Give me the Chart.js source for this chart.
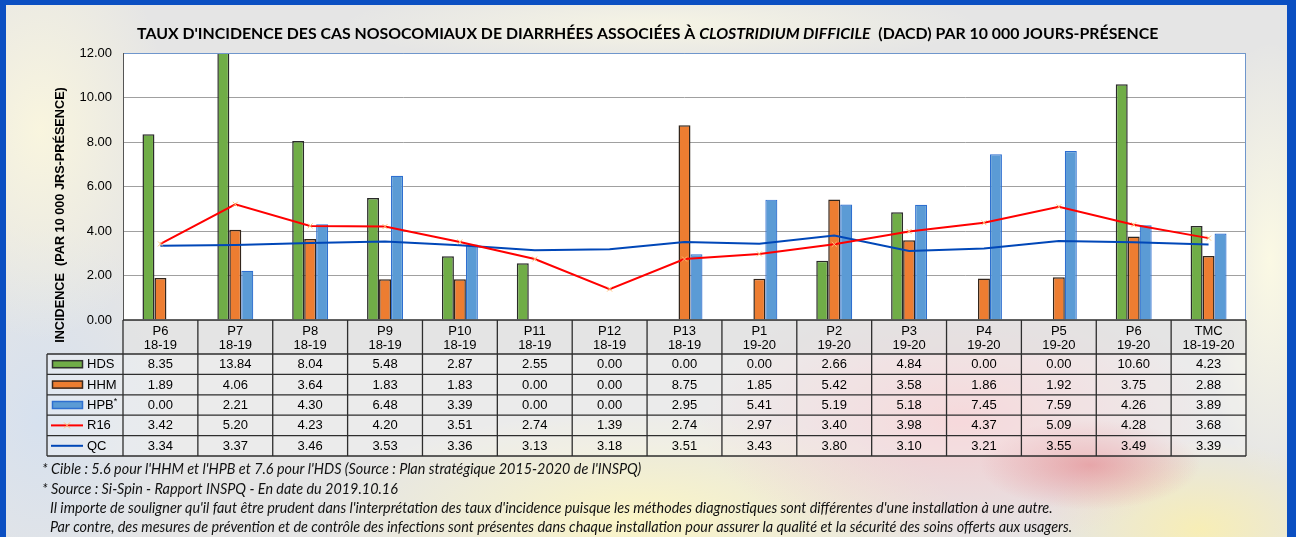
<!DOCTYPE html>
<html><head><meta charset="utf-8">
<script src="https://cdn.jsdelivr.net/npm/chart.js@4.4.0/dist/chart.umd.min.js"></script>
<style>
html,body{margin:0;padding:0;width:1296px;height:537px;overflow:hidden;background:#e6e6e6;}
#bg{position:absolute;left:0;top:0;width:1296px;height:537px;
background:
 radial-gradient(ellipse 110px 45px at 1090px 465px, rgba(228,130,135,0.6), rgba(228,130,135,0)),
 radial-gradient(ellipse 260px 130px at 960px 420px, rgba(246,200,204,0.85), rgba(246,200,204,0)),
 radial-gradient(ellipse 320px 110px at 640px 520px, rgba(252,246,196,0.95), rgba(252,246,196,0)),
 radial-gradient(ellipse 160px 90px at 1200px 530px, rgba(252,240,170,0.8), rgba(252,240,170,0)),
 radial-gradient(ellipse 130px 210px at 40px 130px, rgba(250,246,222,0.95), rgba(250,246,222,0)),
 radial-gradient(ellipse 140px 200px at 40px 420px, rgba(212,224,240,0.85), rgba(212,224,240,0)),
 radial-gradient(ellipse 70px 220px at 1270px 260px, rgba(252,250,228,0.95), rgba(252,250,228,0)),
 radial-gradient(ellipse 320px 40px at 660px 25px, rgba(248,246,228,0.9), rgba(248,246,228,0)),
 #e5e5e5;}
#frame{position:absolute;left:0;top:0;width:1296px;height:537px;box-sizing:border-box;border-left:6px solid #0b4fc2;border-top:5px solid #0b4fc2;border-right:9px solid #0b4fc2;}
canvas{position:absolute;left:0;top:0;}
</style>
</head><body>
<div id="bg"></div>
<div id="frame"></div>
<canvas id="c" width="1296" height="537"></canvas>
<script>
// ---- data ----
const categories = [["P6","18-19"],["P7","18-19"],["P8","18-19"],["P9","18-19"],["P10","18-19"],["P11","18-19"],["P12","18-19"],["P13","18-19"],["P1","19-20"],["P2","19-20"],["P3","19-20"],["P4","19-20"],["P5","19-20"],["P6","19-20"],["TMC","18-19-20"]];
const hds = [8.35,13.84,8.04,5.48,2.87,2.55,0.00,0.00,0.00,2.66,4.84,0.00,0.00,10.60,4.23];
const hhm = [1.89,4.06,3.64,1.83,1.83,0.00,0.00,8.75,1.85,5.42,3.58,1.86,1.92,3.75,2.88];
const hpb = [0.00,2.21,4.30,6.48,3.39,0.00,0.00,2.95,5.41,5.19,5.18,7.45,7.59,4.26,3.89];
const r16 = [3.42,5.20,4.23,4.20,3.51,2.74,1.39,2.74,2.97,3.40,3.98,4.37,5.09,4.28,3.68];
const qc  = [3.34,3.37,3.46,3.53,3.36,3.13,3.18,3.51,3.43,3.80,3.10,3.21,3.55,3.49,3.39];
const yTicks = [0,2,4,6,8,10,12];
const seriesNames = ["HDS","HHM","HPB*","R16","QC"];
const titleParts = [["TAUX D'INCIDENCE DES CAS NOSOCOMIAUX DE DIARRHÉES ASSOCIÉES À ",false],["CLOSTRIDIUM DIFFICILE",true],["  (DACD) PAR 10 000 JOURS-PRÉSENCE",false]];
const yTitle = "INCIDENCE  (PAR 10 000 JRS-PRÉSENCE)";
const notes = [
 "* Cible : 5.6 pour l'HHM et l'HPB et 7.6 pour l'HDS (Source : Plan stratégique 2015-2020 de l'INSPQ)",
 "* Source : Si-Spin - Rapport INSPQ - En date du 2019.10.16",
 "Il importe de souligner qu'il faut être prudent dans l'interprétation des taux d'incidence puisque les méthodes diagnostiques sont différentes d'une installation à une autre.",
 "Par contre, des mesures de prévention et de contrôle des infections sont présentes dans chaque installation pour assurer la qualité et la sécurité des soins offerts aux usagers."
];

const nz = a => a.map(v => v === 0 ? null : v);
const ARIAL = "'Liberation Sans', Arial, sans-serif";
const CAL = "Lato, 'Open Sans', sans-serif";

const bgPlugin = {
  id:'bgp',
  beforeDraw(chart){
    const {ctx, chartArea:a} = chart;
    ctx.save(); ctx.fillStyle='#ffffff';
    ctx.fillRect(a.left,a.top,a.right-a.left,a.bottom-a.top);
    ctx.restore();
  },
  afterDatasetsDraw(chart){
    const {ctx, chartArea:a} = chart;
    ctx.save();
    ctx.lineWidth=1;
    ctx.strokeStyle='#6f96cc';
    ctx.beginPath(); ctx.moveTo(a.left,a.top+0.5); ctx.lineTo(a.right-0.5,a.top+0.5); ctx.lineTo(a.right-0.5,a.bottom); ctx.stroke();
    ctx.strokeStyle='#555';
    ctx.beginPath(); ctx.moveTo(a.left+0.5,a.top); ctx.lineTo(a.left+0.5,a.bottom); ctx.stroke();
    ctx.restore();
  }
};

const tablePlugin = {
  id:'tbl',
  afterDraw(chart){
    const {ctx, chartArea:a} = chart;
    const xs = chart.scales.x;
    const n = categories.length;
    const cw = xs.getPixelForValue(1) - xs.getPixelForValue(0);
    const left0 = 47;
    const hTop = a.bottom, hBot = 354;
    const rowH = (456 - hBot)/5;
    const rows = [hds,hhm,hpb,r16,qc];
    ctx.save();
    ctx.fillStyle='rgba(226,226,226,0.6)';
    ctx.fillRect(xs.getPixelForValue(0)-cw/2, hTop, cw*n, hBot-hTop);
    ctx.fillStyle='rgba(255,255,255,0.25)';
    ctx.fillRect(left0, hBot, (xs.getPixelForValue(n-1)+cw/2)-left0, 456-hBot);
    ctx.strokeStyle='#2e2e2e'; ctx.lineWidth=1.3;
    ctx.beginPath();
    const xl = xs.getPixelForValue(0)-cw/2, xr = xs.getPixelForValue(n-1)+cw/2;
    ctx.moveTo(xl,hTop); ctx.lineTo(xr,hTop);
    for(let r=0;r<=5;r++){ const y=hBot+r*rowH; ctx.moveTo(left0,y); ctx.lineTo(xr,y); }
    for(let i=0;i<=n;i++){ const x = xl + i*cw; ctx.moveTo(x,hTop); ctx.lineTo(x,456); }
    ctx.moveTo(left0,hBot); ctx.lineTo(left0,456);
    ctx.stroke();
    ctx.fillStyle='#000'; ctx.textAlign='center'; ctx.textBaseline='middle';
    ctx.font = `13px ${ARIAL}`;
    for(let i=0;i<n;i++){
      const x = xs.getPixelForValue(i);
      ctx.fillText(categories[i][0], x, 331);
      ctx.fillText(categories[i][1], x, 345);
    }
    for(let r=0;r<5;r++){
      const y = hBot + r*rowH + rowH/2 + 0.5;
      for(let i=0;i<n;i++){
        ctx.fillText(rows[r][i].toFixed(2), xs.getPixelForValue(i), y);
      }
    }
    const keys = [
      {t:'bar', f:'#70ad47', s:'#2f2f2f'},
      {t:'bar', f:'#ed7d31', s:'#3a2a20'},
      {t:'bar', f:'#5b9bd5', s:'#2e6fd0'},
      {t:'line', s:'#ff0000', m:true},
      {t:'line', s:'#0047b8'}
    ];
    ctx.textAlign='left';
    for(let r=0;r<5;r++){
      const yc = hBot + r*rowH + rowH/2;
      const k = keys[r];
      if(k.t==='bar'){
        ctx.fillStyle=k.f; ctx.fillRect(52,yc-4,31,8);
        ctx.strokeStyle=k.s; ctx.lineWidth=1.5; ctx.strokeRect(52.5,yc-3.5,30,7);
      } else {
        ctx.strokeStyle=k.s; ctx.lineWidth=2;
        ctx.beginPath(); ctx.moveTo(51,yc); ctx.lineTo(83,yc); ctx.stroke();
        if(k.m){
          ctx.strokeStyle='#ffc27a'; ctx.lineWidth=1;
          ctx.beginPath(); ctx.moveTo(64,yc-3); ctx.lineTo(70,yc+3); ctx.moveTo(70,yc-3); ctx.lineTo(64,yc+3); ctx.stroke();
        }
      }
      ctx.fillStyle='#000'; ctx.font=`13px ${ARIAL}`;
      if(seriesNames[r]==='HPB*'){
        ctx.fillText('HPB',87,yc+0.5);
        const w = ctx.measureText('HPB').width;
        ctx.font=`9px ${ARIAL}`; ctx.fillText('*',87+w,yc-3);
      } else ctx.fillText(seriesNames[r],87,yc+0.5);
    }
    ctx.textBaseline='alphabetic';
    let size=15;
    const fontFor=(it,s)=>`${it?'italic ':''}bold ${s}px ${CAL}`;
    let tw=0; titleParts.forEach(p=>{ctx.font=fontFor(p[1],size); tw+=ctx.measureText(p[0]).width;});
    size = size*1022/tw;
    let tx = 648-1022/2;
    titleParts.forEach(p=>{ctx.font=fontFor(p[1],size); ctx.fillText(p[0],tx,39); tx+=ctx.measureText(p[0]).width;});
    ctx.save();
    ctx.translate(64,215); ctx.rotate(-Math.PI/2);
    let ys=12; ctx.font=`bold ${ys}px ${ARIAL}`;
    ys = ys*256/ctx.measureText(yTitle).width;
    ctx.font=`bold ${ys}px ${ARIAL}`;
    ctx.textAlign='center'; ctx.fillText(yTitle,0,0);
    ctx.restore();
    let ns=13; ctx.font=`italic ${ns}px ${CAL}`;
    ns = ns*600/ctx.measureText(notes[0]).width;
    ctx.font=`italic ${ns}px ${CAL}`;
    ctx.fillStyle='#111'; ctx.textAlign='left';
    ctx.fillText(notes[0],42,474);
    ctx.fillText(notes[1],42,494);
    ctx.fillText(notes[2],50,513);
    ctx.fillText(notes[3],50,532);
    ctx.restore();
  }
};

new Chart(document.getElementById('c').getContext('2d'), {
  type:'bar',
  data:{
    labels: categories.map(c=>c.join(' ')),
    datasets:[
      {type:'line', label:'R16', data:r16, borderColor:'#ff0000', borderWidth:2, pointStyle:'crossRot', pointRadius:3.5, pointBorderColor:'#ffc27a', pointBackgroundColor:'#ffc27a', pointBorderWidth:1, order:0},
      {type:'line', label:'QC', data:qc, borderColor:'#0047b8', borderWidth:2, pointRadius:0, order:1},
      {type:'bar', label:'HDS', data:nz(hds), backgroundColor:'#70ad47', borderColor:'#2a2a2a', borderWidth:1.5, order:2},
      {type:'bar', label:'HHM', data:nz(hhm), backgroundColor:'#ed7d31', borderColor:'#33261c', borderWidth:1.5, order:3},
      {type:'bar', label:'HPB*', data:nz(hpb), backgroundColor:'#5b9bd5', borderColor:'#2e6fd0', borderWidth:1.2, order:4}
    ]
  },
  options:{
    responsive:false, animation:false,
    layout:{padding:{left:0,right:50,top:53,bottom:217}},
    plugins:{legend:{display:false},title:{display:false},tooltip:{enabled:false}},
    datasets:{bar:{categoryPercentage:0.48,barPercentage:1}},
    scales:{
      x:{display:false, offset:true, grid:{display:false}},
      y:{min:0,max:12,
         afterBuildTicks(s){ s.ticks = yTicks.map(v=>({value:v})); },
         afterFit(s){ s.width = 123; },
         ticks:{callback:v=>Number(v).toFixed(2), font:{family:ARIAL,size:13}, color:'#000', padding:11},
         grid:{color:'#a0a0a0', lineWidth:1, drawTicks:false},
         border:{display:false}}
    }
  },
  plugins:[bgPlugin, tablePlugin]
});
</script>
</body></html>
